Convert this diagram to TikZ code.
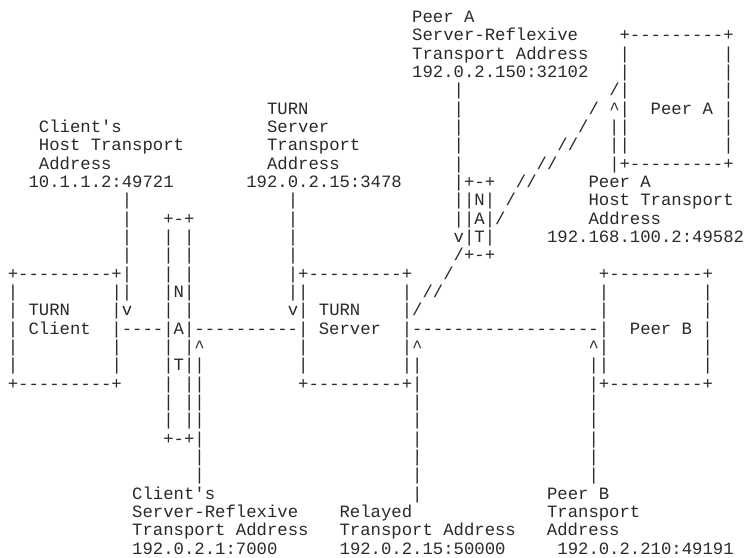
\documentclass[tikz,border=0pt]{standalone}
\usepackage{fontspec}
\setmonofont{Liberation Mono}
\definecolor{ink}{HTML}{2A2A2A}
\newcommand\defrow[2]{\expandafter\gdef\csname asciirow#1\endcsname{#2}}
\begingroup
\catcode`\^=12
\catcode`\ =13%
\gdef {\ }%
\defrow{0}{                                          Peer A}%
\defrow{1}{                                          Server-Reflexive    +---------+}%
\defrow{2}{                                          Transport Address   |         |}%
\defrow{3}{                                          192.0.2.150:32102   |         |}%
\defrow{4}{                                              |              /|         |}%
\defrow{5}{                            TURN              |            / ^|  Peer A |}%
\defrow{6}{      Client's              Server            |           /  ||         |}%
\defrow{7}{      Host Transport        Transport         |         //   ||         |}%
\defrow{8}{      Address               Address           |       //     |+---------+}%
\defrow{9}{     10.1.1.2:49721       192.0.2.15:3478     |+-+  //     Peer A}%
\defrow{10}{              |               |               ||N| /       Host Transport}%
\defrow{11}{              |   +-+         |               ||A|/        Address}%
\defrow{12}{              |   | |         |               v|T|     192.168.100.2:49582}%
\defrow{13}{              |   | |         |               /+-+}%
\defrow{14}{   +---------+|   | |         |+---------+   /              +---------+}%
\defrow{15}{   |         ||   |N|         ||         | //               |         |}%
\defrow{16}{   | TURN    |v   | |         v| TURN    |/                 |         |}%
\defrow{17}{   | Client  |----|A|----------| Server  |------------------|  Peer B |}%
\defrow{18}{   |         |    | |^         |         |^                ^|         |}%
\defrow{19}{   |         |    |T||         |         ||                ||         |}%
\defrow{20}{   +---------+    | ||         +---------+|                |+---------+}%
\defrow{21}{                  | ||                    |                |}%
\defrow{22}{                  | ||                    |                |}%
\defrow{23}{                  +-+|                    |                |}%
\defrow{24}{                     |                    |                |}%
\defrow{25}{                     |                    |                |}%
\defrow{26}{               Client's                   |            Peer B}%
\defrow{27}{               Server-Reflexive    Relayed             Transport}%
\defrow{28}{               Transport Address   Transport Address   Address}%
\defrow{29}{               192.0.2.1:7000      192.0.2.15:50000     192.0.2.210:49191}%
\endgroup
\tikzset{
  asciirowstyle/.style={anchor=base west, inner sep=0pt, outer sep=0pt,
    font=\ttfamily\fontsize{17.28pt}{18.33pt}\selectfont, text=ink}
}
\begin{document}
\begin{tikzpicture}
\path[use as bounding box, fill=white] (0pt,0pt) rectangle (746pt,-557pt);
\foreach \rowidx in {0,...,29}{
  \node[asciirowstyle] (row\rowidx) at (-23.3pt,{-(22.6pt+18.33pt*\rowidx)}) {\csname asciirow\rowidx\endcsname};
}
\end{tikzpicture}
\end{document}
